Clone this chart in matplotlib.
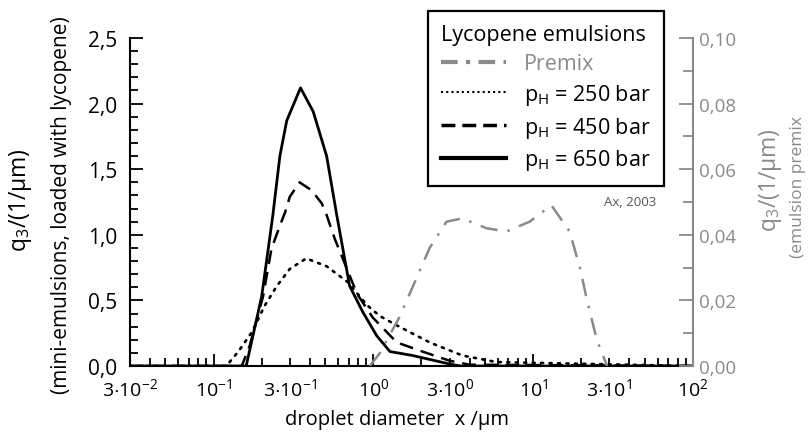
import numpy as np
import matplotlib
matplotlib.use("Agg")
import matplotlib.pyplot as plt
from matplotlib.ticker import FixedLocator, FixedFormatter, MultipleLocator, FuncFormatter
from matplotlib.lines import Line2D

plt.rcParams['font.family'] = ['Open Sans', 'DejaVu Sans']
plt.rcParams['mathtext.fontset'] = 'custom'
plt.rcParams['mathtext.rm'] = 'Open Sans'
plt.rcParams['mathtext.it'] = 'Open Sans:italic'
plt.rcParams['mathtext.default'] = 'regular'

# droplet diameter x / um and q3 values
x_250 = [0.03, 0.12, 0.143, 0.174, 0.209, 0.249, 0.30, 0.38, 0.51, 0.69, 0.92, 1.1, 1.4, 2.25, 3.6, 5.9, 100]
q_250 = [0, 0, 0.11, 0.26, 0.46, 0.61, 0.74, 0.82, 0.76, 0.64, 0.46, 0.38, 0.31, 0.18, 0.08, 0.03, 0]

x_450 = [0.03, 0.15, 0.168, 0.187, 0.204, 0.23, 0.26, 0.28, 0.30, 0.345, 0.41, 0.475, 0.51, 0.573, 0.79, 0.99, 1.40, 2.03, 3.0, 4.0, 100]
q_450 = [0, 0, 0.15, 0.36, 0.53, 0.89, 1.07, 1.17, 1.29, 1.40, 1.34, 1.24, 1.15, 0.97, 0.55, 0.37, 0.18, 0.11, 0.04, 0.01, 0]

x_650 = [0.03, 0.16, 0.20, 0.235, 0.26, 0.287, 0.35, 0.42, 0.51, 0.59, 0.71, 0.86, 1.05, 1.27, 1.76, 2.25, 3.0, 3.5, 100]
q_650 = [0, 0, 0.53, 1.15, 1.60, 1.87, 2.12, 1.94, 1.60, 1.15, 0.61, 0.41, 0.23, 0.11, 0.08, 0.05, 0.015, 0, 0]

x_premix = [0.95, 1.1, 1.46, 1.87, 2.25, 2.87, 3.6, 5.1, 6.8, 9.5, 13.0, 16.9, 19.6, 21.5, 25, 29]
q_premix = [0, 0.004, 0.015, 0.027, 0.036, 0.044, 0.045, 0.042, 0.041, 0.044, 0.049, 0.041, 0.030, 0.021, 0.008, 0]

xtick_vals = [0.03, 0.1, 0.3, 1, 3, 10, 30, 100]
xtick_labels = [r'3$\cdot$10$^{-2}$', r'10$^{-1}$', r'3$\cdot$10$^{-1}$', r'10$^{0}$',
                r'3$\cdot$10$^{0}$', r'10$^{1}$', r'3$\cdot$10$^{1}$', r'10$^{2}$']

GRAY = '#8a8a8a'

fig = plt.figure(figsize=(8.11, 4.39), dpi=100)
ax = fig.add_axes([130/811, 1 - 367/439, 563/811, 328/439])
ax2 = ax.twinx()

ax.plot(x_250, q_250, color='black', lw=1.9, linestyle=(0, (0.8, 2.4)), dash_capstyle='round')
ax.plot(x_450, q_450, color='black', lw=1.8, linestyle=(0, (5.5, 3.2)))
ax.plot(x_650, q_650, color='black', lw=2.0, linestyle='-')
ax2.plot(x_premix, q_premix, color=GRAY, lw=1.8, linestyle=(0, (7, 4, 1, 4)))

ax.set_xscale('log')
ax.set_xlim(0.03, 100)
ax.set_ylim(0, 2.5)
ax2.set_ylim(0, 0.10)

# x ticks
ax.xaxis.set_major_locator(FixedLocator(xtick_vals))
ax.xaxis.set_major_formatter(FixedFormatter(xtick_labels))
minor = [m * 10.0**e for e in range(-2, 2) for m in range(2, 10) if m != 3 and 0.03 <= m * 10.0**e <= 100]
ax.xaxis.set_minor_locator(FixedLocator(minor))
ax.xaxis.set_minor_formatter(FixedFormatter([''] * len(minor)))
ax.tick_params(axis='x', which='major', direction='in', length=9, width=1.3, labelsize=14, pad=8)
ax.tick_params(axis='x', which='minor', direction='in', length=6, width=1.3)
for t, v in zip(ax.xaxis.get_major_ticks(), xtick_vals):
    if v in (0.03, 0.3, 3, 30):
        t.tick1line.set_markersize(6)

# left y ticks
ax.yaxis.set_major_locator(MultipleLocator(0.5))
ax.yaxis.set_minor_locator(MultipleLocator(0.1))
ax.yaxis.set_major_formatter(FuncFormatter(lambda v, p: f'{v:.1f}'.replace('.', ',')))
ax.tick_params(axis='y', which='major', direction='in', length=9, width=1.3, labelsize=15, pad=9)
ax.tick_params(axis='y', which='minor', direction='in', length=6, width=1.3)

# right y ticks
ax2.yaxis.set_major_locator(MultipleLocator(0.02))
ax2.yaxis.set_minor_locator(MultipleLocator(0.01))
ax2.yaxis.set_major_formatter(FuncFormatter(lambda v, p: f'{v:.2f}'.replace('.', ',')))
ax2.tick_params(axis='y', which='major', direction='in', length=10, width=1.3, labelsize=13.5,
                color=GRAY, labelcolor=GRAY, pad=4)
ax2.tick_params(axis='y', which='minor', direction='in', length=7, width=1.3, color=GRAY)

for a in (ax, ax2):
    a.spines['top'].set_visible(False)
ax.spines['right'].set_visible(False)
ax2.spines['left'].set_visible(False)
ax2.spines['bottom'].set_visible(False)
ax2.spines['right'].set_color(GRAY)
ax2.spines['right'].set_linewidth(1.5)
ax.spines['left'].set_linewidth(1.5)
ax.spines['bottom'].set_linewidth(1.5)

fig.text(397/811, 1 - 420/439, 'droplet diameter  x /µm', ha='center', va='center', fontsize=14.5)

fig.text(20/811, 1 - 200/439, 'q$_3$/(1/µm)', rotation=90, ha='center', va='center', fontsize=16.5)
fig.text(62/811, 1 - 205/439, '(mini-emulsions, loaded with lycopene)', rotation=90,
         ha='center', va='center', fontsize=15)
fig.text(770/811, 1 - 180/439, 'q$_3$/(1/µm)', rotation=90, ha='center', va='center',
         fontsize=16.5, color=GRAY)
fig.text(798/811, 1 - 187/439, '(emulsion premix', rotation=90, ha='center', va='center',
         fontsize=12.5, color=GRAY)

ax.text(0.888, 0.5, 'Ax, 2003', transform=ax.transAxes, fontsize=9.5, color='#555555',
        ha='center', va='center')

handles = [
    Line2D([], [], color=GRAY, lw=3, linestyle=(0, (4, 2, 1, 2))),
    Line2D([], [], color='black', lw=1.5, linestyle=(0, (1, 1.5))),
    Line2D([], [], color='black', lw=2.5, linestyle=(0, (4, 2))),
    Line2D([], [], color='black', lw=3, linestyle='-'),
]
labels = ['Premix', 'p$_{H}$ = 250 bar', 'p$_{H}$ = 450 bar', 'p$_{H}$ = 650 bar']
leg = fig.legend(handles, labels, title='Lycopene emulsions', loc='upper left',
                 bbox_to_anchor=(428/811, 1 - 12/439), borderaxespad=0, fontsize=15.5,
                 title_fontsize=15.5, frameon=True, fancybox=False, edgecolor='black',
                 framealpha=1, handlelength=3.0, handletextpad=0.85, labelspacing=0.36,
                 borderpad=0.62, alignment='left')
leg.get_frame().set_linewidth(1.6)
leg.get_texts()[0].set_color(GRAY)

fig.savefig('out.png', dpi=100)
